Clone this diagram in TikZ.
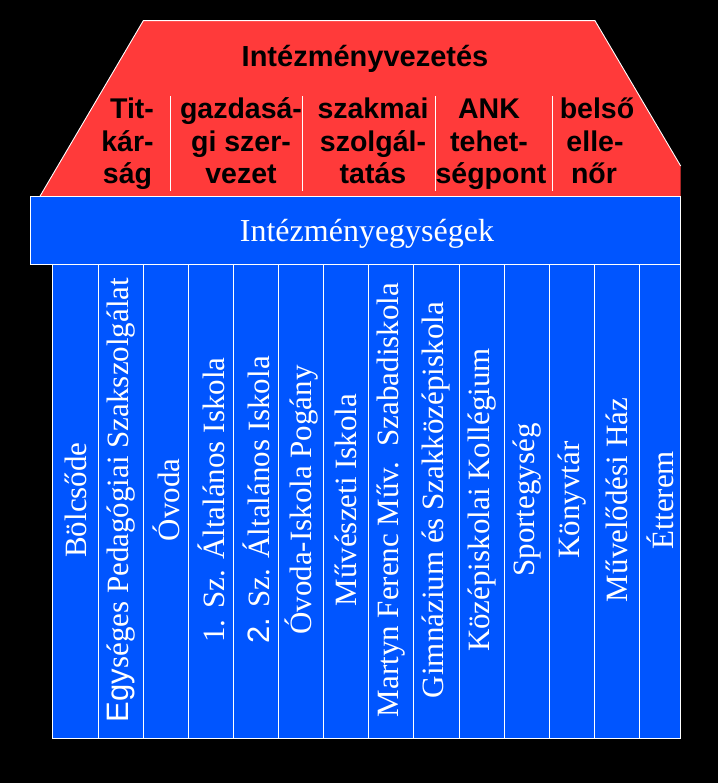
\documentclass[tikz,border=0pt]{standalone}
\usepackage{fontspec}
\newfontfamily\arialf{Liberation Sans}
\newfontfamily\tnrf{Liberation Serif}
\definecolor{roofred}{HTML}{FF3A3A}
\definecolor{unitblue}{HTML}{0055FF}
\begin{document}
\begin{tikzpicture}[x=1bp,y=-1bp,
  rooftxt/.style={anchor=base, inner sep=0pt, text=black,
    font=\arialf\bfseries\fontsize{28.5bp}{32bp}\selectfont},
  titletxt/.style={anchor=base, inner sep=0pt, text=black,
    font=\arialf\bfseries\fontsize{29bp}{32bp}\selectfont},
  bandtxt/.style={anchor=base, inner sep=0pt, text=white,
    font=\tnrf\fontsize{32bp}{36bp}\selectfont},
  coltxt/.style={rotate=90, inner sep=0pt, text=white,
    font=\tnrf\fontsize{31bp}{36bp}\selectfont},
  whiteline/.style={draw=white, line width=0.9bp},
  colframe/.style={draw=white, line width=0.9bp, fill=unitblue}]
\fill[black] (0,0) rectangle (718,783);
\useasboundingbox (0,0) rectangle (718,783);

% roof
\coordinate (rbl) at (39.7,196.7);
\coordinate (rtl) at (143.3,20.7);
\coordinate (rtr) at (595,20.7);
\coordinate (rrs) at (680.7,166);
\coordinate (rbr) at (680.7,196.7);
\fill[roofred] (rbl) -- (rtl) -- (rtr) -- (rrs) -- (rbr) -- cycle;
\draw[whiteline] (rbl) -- (rtl) -- (rtr) -- (rrs);

% roof separators
\foreach \sx/\nm in {170.8/s1,302.2/s2,435/s3,552.7/s4}{
  \coordinate (\nm a) at (\sx,96);
  \coordinate (\nm b) at (\sx,190.7);
  \draw[whiteline] (\nm a) -- (\nm b);
}

\node[titletxt] (title) at (365,66.7) {Intézményvezetés};

\node[rooftxt] (t1a) at (132,118.5) {Tit-};
\node[rooftxt] (t1b) at (127.5,151) {kár-};
\node[rooftxt] (t1c) at (127.5,183.3) {ság};
\node[rooftxt] (t2a) at (241,118.5) {gazdasá-};
\node[rooftxt] (t2b) at (241,151) {gi szer-};
\node[rooftxt] (t2c) at (241,183.3) {vezet};
\node[rooftxt] (t3a) at (373,118.5) {szakmai};
\node[rooftxt] (t3b) at (373,151) {szolgál-};
\node[rooftxt] (t3c) at (373,183.3) {tatás};
\node[rooftxt] (t4a) at (489,118.5) {ANK};
\node[rooftxt] (t4b) at (489,151) {tehet-};
\node[rooftxt] (t4c) at (491,183.3) {ségpont};
\node[rooftxt] (t5a) at (597,118.5) {belső};
\node[rooftxt] (t5b) at (595,151) {elle-};
\node[rooftxt] (t5c) at (594,183.3) {nőr};

% band
\draw[colframe] (30.7,196.7) rectangle (680.7,264);
\node[bandtxt] (band) at (367,241.5) {Intézményegységek};

% columns
\draw[colframe] (52.5,264) rectangle (680.7,738);
\foreach \i in {1,...,13}{
  \coordinate (c\i top) at ({53.3+45.08*\i},264);
  \coordinate (c\i bot) at ({53.3+45.08*\i},738);
  \draw[whiteline] (c\i top) -- (c\i bot);
}

\node[coltxt] (u1) at (75.4,500) {Bölcsőde};
\node[coltxt] (u2) at (120.9,500) {{\arialf Egy}séges Pedagógiai Szakszolgálat};
\node[coltxt] (u3) at (166.0,500) {Óvoda};
\node[coltxt] (u4) at (211.1,500) {1. Sz. Általános Iskola};
\node[coltxt] (u5) at (256.2,500) {{\arialf 2.} Sz. Általános Iskola};
\node[coltxt] (u6) at (301.2,500) {Óvoda-Iskola Pogány};
\node[coltxt] (u7) at (346.3,500) {Művészeti Iskola};
\node[coltxt] (u8) at (391.4,500) {Martyn Ferenc Műv.\ \ Szabadiskola};
\node[coltxt] (u9) at (436.5,500) {Gimnázium és Szakközépiskola};
\node[coltxt] (u10) at (481.6,500) {Középiskolai Kollégium};
\node[coltxt] (u11) at (526.7,500) {Sportegység};
\node[coltxt] (u12) at (571.7,500) {Könyvtár};
\node[coltxt] (u13) at (616.8,500) {Művelődési Ház};
\node[coltxt] (u14) at (660.0,500) {Étterem};
\end{tikzpicture}
\end{document}
